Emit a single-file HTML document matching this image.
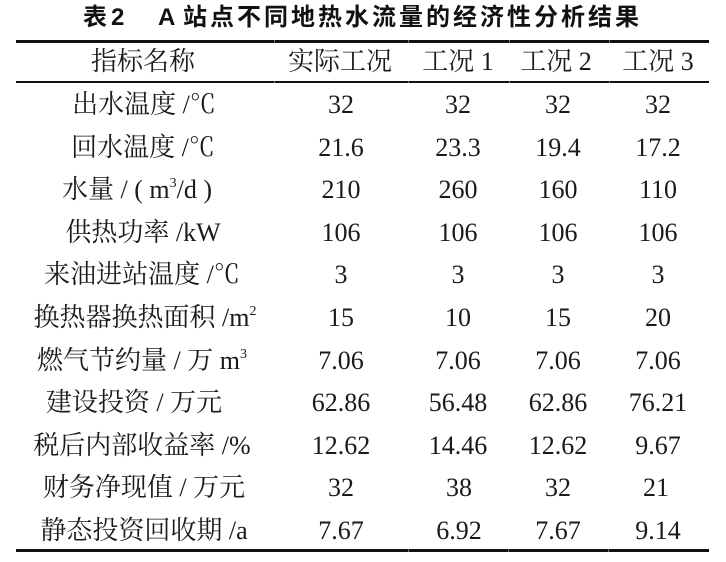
<!DOCTYPE html>
<html><head><meta charset="utf-8">
<style>
html,body{margin:0;padding:0;background:#fff;}
body{width:726px;height:562px;position:relative;overflow:hidden;}
.t{position:absolute;white-space:nowrap;color:#1a1a1a;}
.title{font-family:"Liberation Sans","Noto Sans CJK SC",sans-serif;font-weight:700;font-size:24px;line-height:28px;top:4px;color:#111;}
.c{position:absolute;width:240px;text-align:center;white-space:nowrap;font-family:"Liberation Serif","Noto Serif CJK SC",serif;font-size:26px;line-height:30px;color:#1a1a1a;}
.c sup{font-size:14px;line-height:0;vertical-align:0;position:relative;top:-11px;}
.rule{position:absolute;left:16px;width:693px;background:#111;}
.gap{position:absolute;width:1px;background:#777;}
</style></head><body>
<div class="t title" style="left:83px;">表</div>
<div class="t title" style="left:111px;">2</div>
<div class="t title" style="left:158px;">A</div>
<div class="t title" style="left:183px;letter-spacing:3px;">站点不同地热水流量的经济性分析结果</div>

<div class="rule" style="top:40px;height:2.5px;"></div>
<div class="rule" style="top:81px;height:2.2px;"></div>
<div class="rule" style="top:549px;height:3px;"></div>

<div class="gap" style="left:274px;top:40px;height:2.5px;"></div>
<div class="gap" style="left:408px;top:40px;height:2.5px;"></div>
<div class="gap" style="left:509px;top:40px;height:2.5px;"></div>
<div class="gap" style="left:609px;top:40px;height:2.5px;"></div>
<div class="gap" style="left:274px;top:81px;height:2.2px;"></div>
<div class="gap" style="left:408px;top:81px;height:2.2px;"></div>
<div class="gap" style="left:509px;top:81px;height:2.2px;"></div>
<div class="gap" style="left:609px;top:81px;height:2.2px;"></div>
<div class="gap" style="left:408px;top:549px;height:3px;"></div>
<div class="gap" style="left:508px;top:549px;height:3px;"></div>
<div class="gap" style="left:608px;top:549px;height:3px;"></div>

<!-- header -->
<div class="c" style="left:23px;top:47px;">指标名称</div>
<div class="c" style="left:220px;top:47px;">实际工况</div>
<div class="c" style="left:338px;top:47px;">工况 1</div>
<div class="c" style="left:436px;top:47px;">工况 2</div>
<div class="c" style="left:538px;top:47px;">工况 3</div>

<!-- row 1 -->
<div class="c" style="left:24px;top:90px;">出水温度 /℃</div>
<div class="c" style="left:221px;top:90px;">32</div>
<div class="c" style="left:338px;top:90px;">32</div>
<div class="c" style="left:438px;top:90px;">32</div>
<div class="c" style="left:538px;top:90px;">32</div>
<!-- row 2 -->
<div class="c" style="left:23px;top:132.6px;">回水温度 /℃</div>
<div class="c" style="left:221px;top:132.6px;">21.6</div>
<div class="c" style="left:338px;top:132.6px;">23.3</div>
<div class="c" style="left:438px;top:132.6px;">19.4</div>
<div class="c" style="left:538px;top:132.6px;">17.2</div>
<!-- row 3 -->
<div class="c" style="left:17px;top:175.2px;">水量 / ( m<sup>3</sup>/d )</div>
<div class="c" style="left:221px;top:175.2px;">210</div>
<div class="c" style="left:338px;top:175.2px;">260</div>
<div class="c" style="left:438px;top:175.2px;">160</div>
<div class="c" style="left:538px;top:175.2px;">110</div>
<!-- row 4 -->
<div class="c" style="left:23px;top:217.8px;">供热功率 /kW</div>
<div class="c" style="left:221px;top:217.8px;">106</div>
<div class="c" style="left:338px;top:217.8px;">106</div>
<div class="c" style="left:438px;top:217.8px;">106</div>
<div class="c" style="left:538px;top:217.8px;">106</div>
<!-- row 5 -->
<div class="c" style="left:22px;top:260.4px;">来油进站温度 /℃</div>
<div class="c" style="left:221px;top:260.4px;">3</div>
<div class="c" style="left:338px;top:260.4px;">3</div>
<div class="c" style="left:438px;top:260.4px;">3</div>
<div class="c" style="left:538px;top:260.4px;">3</div>
<!-- row 6 -->
<div class="c" style="left:25px;top:303px;">换热器换热面积 /m<sup>2</sup></div>
<div class="c" style="left:221px;top:303px;">15</div>
<div class="c" style="left:338px;top:303px;">10</div>
<div class="c" style="left:438px;top:303px;">15</div>
<div class="c" style="left:538px;top:303px;">20</div>
<!-- row 7 -->
<div class="c" style="left:22px;top:345.6px;">燃气节约量 / 万 m<sup>3</sup></div>
<div class="c" style="left:221px;top:345.6px;">7.06</div>
<div class="c" style="left:338px;top:345.6px;">7.06</div>
<div class="c" style="left:438px;top:345.6px;">7.06</div>
<div class="c" style="left:538px;top:345.6px;">7.06</div>
<!-- row 8 -->
<div class="c" style="left:14px;top:388.2px;">建设投资 / 万元</div>
<div class="c" style="left:221px;top:388.2px;">62.86</div>
<div class="c" style="left:338px;top:388.2px;">56.48</div>
<div class="c" style="left:438px;top:388.2px;">62.86</div>
<div class="c" style="left:538px;top:388.2px;">76.21</div>
<!-- row 9 -->
<div class="c" style="left:22px;top:430.8px;">税后内部收益率 /%</div>
<div class="c" style="left:221px;top:430.8px;">12.62</div>
<div class="c" style="left:338px;top:430.8px;">14.46</div>
<div class="c" style="left:438px;top:430.8px;">12.62</div>
<div class="c" style="left:538px;top:430.8px;">9.67</div>
<!-- row 10 -->
<div class="c" style="left:24px;top:473.4px;">财务净现值 / 万元</div>
<div class="c" style="left:221px;top:473.4px;">32</div>
<div class="c" style="left:339px;top:473.4px;">38</div>
<div class="c" style="left:438px;top:473.4px;">32</div>
<div class="c" style="left:536px;top:473.4px;">21</div>
<!-- row 11 -->
<div class="c" style="left:24px;top:516px;">静态投资回收期 /a</div>
<div class="c" style="left:221px;top:516px;">7.67</div>
<div class="c" style="left:339px;top:516px;">6.92</div>
<div class="c" style="left:438px;top:516px;">7.67</div>
<div class="c" style="left:538px;top:516px;">9.14</div>
</body></html>
